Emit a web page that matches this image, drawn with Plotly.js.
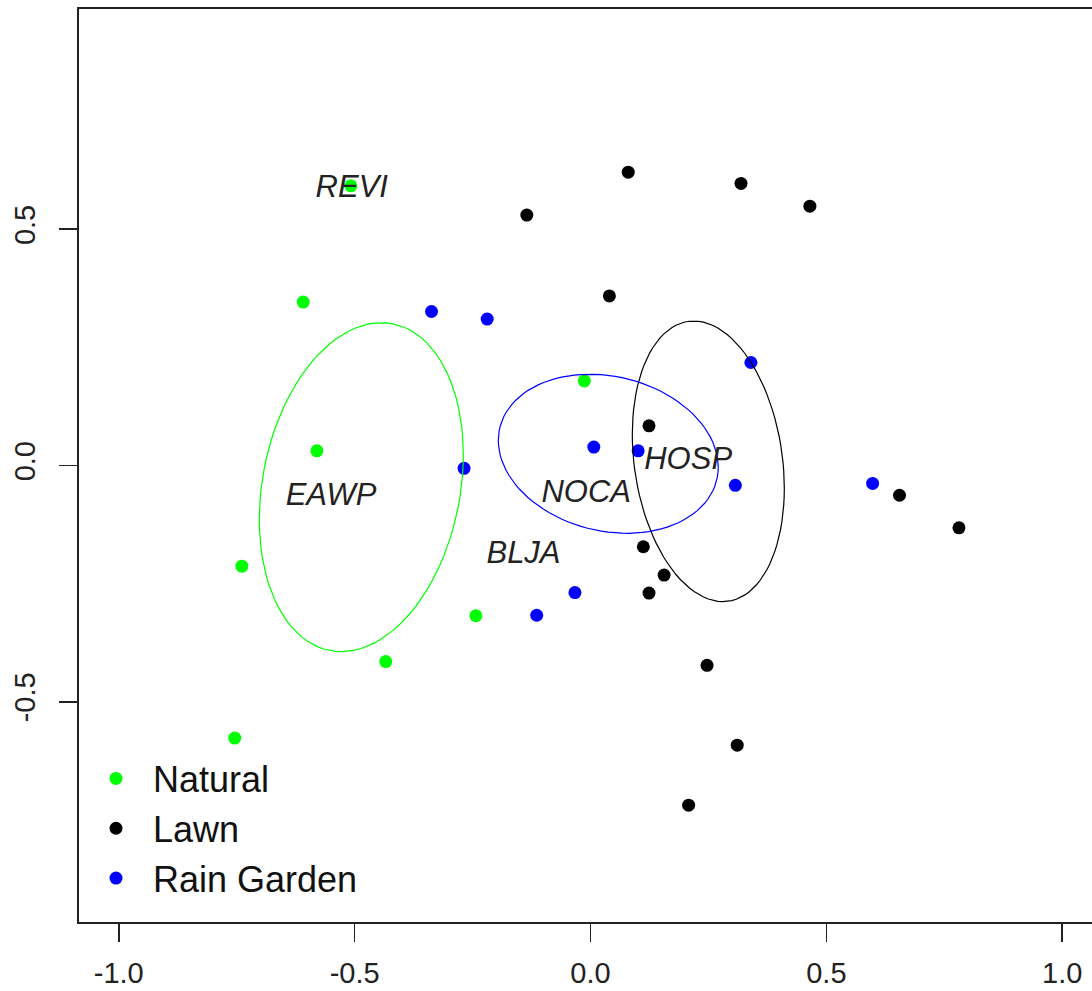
<!DOCTYPE html>
<html>
<head>
<meta charset="utf-8">
<script src="https://cdn.plot.ly/plotly-3.0.1.min.js"></script>
<style>html,body{margin:0;padding:0;background:#fff;}#chart{width:1092px;height:991px;}</style>
</head>
<body>
<div id="chart"></div>
<script>
// ---- data ----
const groups = ["Natural", "Lawn", "Rain Garden"];
const naturalX = [-0.508, -0.609, -0.580, -0.739, -0.434, -0.754, -0.243, -0.013];
const naturalY = [0.592, 0.346, 0.031, -0.213, -0.415, -0.577, -0.318, 0.179];
const lawnX = [0.080, 0.319, 0.465, -0.135, 0.040, 0.124, 0.112, 0.156, 0.124, 0.247, 0.311, 0.208, 0.655, 0.781];
const lawnY = [0.621, 0.597, 0.549, 0.530, 0.359, 0.084, -0.172, -0.232, -0.270, -0.423, -0.592, -0.719, -0.063, -0.132];
const rainX = [-0.337, -0.219, 0.340, 0.007, 0.101, -0.268, 0.307, 0.598, -0.033, -0.114];
const rainY = [0.326, 0.310, 0.218, 0.039, 0.031, -0.006, -0.042, -0.038, -0.269, -0.317];

const species = ["REVI", "EAWP", "NOCA", "HOSP", "BLJA"];
const speciesX = [-0.506, -0.550, -0.009, 0.207, -0.142];
const speciesY = [0.585, -0.067, -0.060, 0.009, -0.189];

// group ellipses: centre, half-width (sd x), half-height (sd y), covariance
const ellCx = [-0.4858, 0.2497, 0.0377];
const ellCy = [-0.0459, 0.0089, 0.0248];
const ellSx = [0.2162, 0.1611, 0.2331];
const ellSy = [0.3482, 0.2970, 0.1683];
const ellCov = [0.01476, -0.00913, -0.00660];

const tickVals = [-1, -0.5, 0, 0.5, 1];
const tickText = ["-1.0", "-0.5", "0.0", "0.5", "1.0"];
const yTickVals = [-0.5, 0, 0.5];
const yTickText = ["-0.5", "0.0", "0.5"];

// ---- styles ----
const colors = ["#00ff00", "#000000", "#0000ff"];
const FONT = "Liberation Sans, Arial, sans-serif";

function ellipse(i) {
  const n = 100, xs = [], ys = [];
  const a = ellSx[i], c = ellCov[i] / a;
  const d = Math.sqrt(ellSy[i] * ellSy[i] - c * c);
  for (let k = 0; k <= n; k++) {
    const t = 2 * Math.PI * k / n;
    xs.push(ellCx[i] + a * Math.cos(t));
    ys.push(ellCy[i] + c * Math.cos(t) + d * Math.sin(t));
  }
  return {x: xs, y: ys};
}

const pts = [[naturalX, naturalY], [lawnX, lawnY], [rainX, rainY]];
const traces = [];
pts.forEach((p, i) => {
  traces.push({
    type: "scatter", mode: "markers", x: p[0], y: p[1], name: groups[i],
    marker: {color: colors[i], size: 13}, hoverinfo: "x+y", cliponaxis: false
  });
});
[0, 1, 2].forEach(i => {
  const e = ellipse(i);
  traces.push({
    type: "scatter", mode: "lines", x: e.x, y: e.y, showlegend: false,
    line: {color: colors[i], width: 1.2}, hoverinfo: "skip"
  });
});
traces.push({
  type: "scatter", mode: "text", x: speciesX, y: speciesY, text: species,
  textposition: "middle center", showlegend: false, hoverinfo: "skip",
  textfont: {family: FONT, size: 31, color: "#222222", style: "italic"}
});

const layout = {
  width: 1092, height: 991,
  margin: {l: 79, r: 0, t: 9, b: 69, pad: 0},
  paper_bgcolor: "#ffffff", plot_bgcolor: "#ffffff",
  font: {family: FONT, color: "#222222"},
  showlegend: true,
  legend: {
    x: 0.0, y: 0.190, xanchor: "left", yanchor: "top",
    bgcolor: "rgba(0,0,0,0)", borderwidth: 0,
    font: {family: FONT, size: 36, color: "#111111"},
    itemwidth: 64, tracegroupgap: 0
  },
  xaxis: {
    range: [-1.0842, 1.0630], showgrid: false, zeroline: false,
    showline: true, mirror: true, linecolor: "#222222", linewidth: 1.6,
    ticks: "outside", ticklen: 18, tickwidth: 1.6, tickcolor: "#222222",
    tickvals: tickVals, ticktext: tickText, ticklabelstandoff: 7,
    tickfont: {family: FONT, size: 29, color: "#222222"}
  },
  yaxis: {
    range: [-0.9663, 0.9663], showgrid: false, zeroline: false,
    showline: true, mirror: false, linecolor: "#222222", linewidth: 1.6,
    ticks: "outside", ticklen: 18, tickwidth: 1.6, tickcolor: "#222222",
    tickvals: yTickVals, ticktext: yTickText, tickangle: -90, ticklabelstandoff: 13,
    tickfont: {family: FONT, size: 29, color: "#222222"}
  }
};

Plotly.newPlot("chart", traces, layout, {displayModeBar: false, staticPlot: true});
</script>
</body>
</html>
